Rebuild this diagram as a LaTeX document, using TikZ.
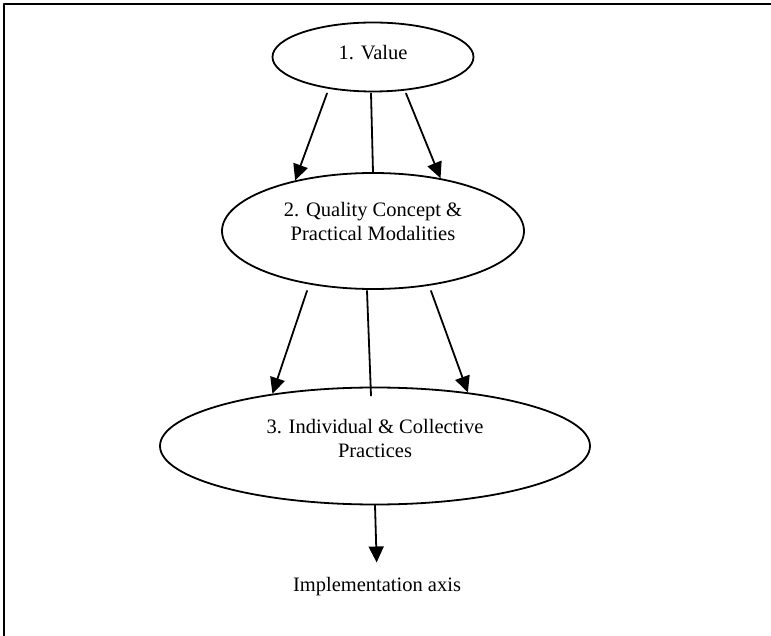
\documentclass[tikz,border=0pt]{standalone}
\usepackage{fontspec}
\setmainfont{Liberation Serif}
\usetikzlibrary{arrows.meta}
\usetikzlibrary{shapes.geometric}
\tikzset{
    oval/.style={draw, ellipse, line width=1.8pt, inner sep=0pt},
    inside/.style={align=center, yshift=#1},
    arr/.style={-{Triangle[length=16pt, width=15pt]}},
}

\begin{document}
\begin{tikzpicture}[x=1pt, y=-1pt, line cap=round, line join=round, line width=1.8pt,
    font=\fontsize{20.5}{24}\selectfont]
    \useasboundingbox (0,0) rectangle (771,636);

    % frame
    \draw[line width=2.4pt] (4,640) -- (4,4) -- (775,4);

    % levels
    \node[oval, minimum width=201pt, minimum height=69pt,
        label={[inside=4pt]center:1. Value}] (val) at (373,57) {};
    \node[oval, minimum width=302pt, minimum height=116pt,
        label={[inside=10pt]center:2. Quality Concept \&\\Practical Modalities}] (qual) at (373,231) {};
    \node[oval, minimum width=430pt, minimum height=117pt,
        label={[inside=8pt]center:3. Individual \& Collective\\Practices}] (prac) at (375,446) {};

    % axis
    \node (impl) at (377,587) {Implementation axis};

    % value -> quality
    \draw[arr] ([xshift=-46pt, yshift=-1pt]val.south) -- (qual.147);
    \draw ([xshift=-2pt, yshift=-1pt]val.south) -- (qual.north);
    \draw[arr] ([xshift=33pt, yshift=-1pt]val.south) -- (qual.38);

    % quality -> practices
    \draw[arr] ([xshift=-66pt, yshift=-1pt]qual.south) -- (prac.153);
    \draw ([xshift=-6pt, yshift=-1pt]qual.south) -- ([xshift=-4pt, yshift=-9pt]prac.north);
    \draw[arr] ([xshift=58pt, yshift=-1pt]qual.south) -- (prac.30);

    % practices -> implementation
    \draw[arr, shorten >=11pt] (prac.south) -- (impl.north);

\end{tikzpicture}
\end{document}
